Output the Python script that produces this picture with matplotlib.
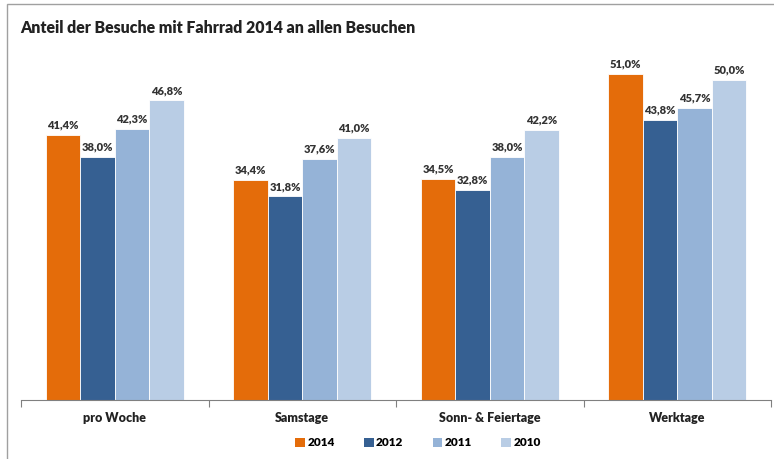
import numpy as np
import matplotlib.pyplot as plt
from matplotlib.patches import Rectangle, Patch

categories = ["pro Woche", "Samstage", "Sonn- & Feiertage", "Werktage"]
years = ["2014", "2012", "2011", "2010"]
v2014 = [41.4, 34.4, 34.5, 51.0]
v2012 = [38.0, 31.8, 32.8, 43.8]
v2011 = [42.3, 37.6, 38.0, 45.7]
v2010 = [46.8, 41.0, 42.2, 50.0]
series = [v2014, v2012, v2011, v2010]
colors = ["#E46C0A", "#366092", "#95B3D7", "#B9CDE5"]

plt.rcParams['font.family'] = ['Lato', 'DejaVu Sans']

fig = plt.figure(figsize=(7.74, 4.59), dpi=100)
W, H = 774, 459
PX = 6.40  # pixels per percent
# axes: x from 21 to 771 px, baseline at y=400
ax = fig.add_axes([21 / W, (H - 400) / H, 750 / W, 60 * PX / H])

x = np.arange(len(categories))
bw = 0.184
for i, (vals, c) in enumerate(zip(series, colors)):
    pos = x + (i - 1.5) * bw
    ax.bar(pos, vals, width=bw, color=c, edgecolor="white", linewidth=0.6)
    for p, v in zip(pos, vals):
        ax.text(p, v + 0.7, f"{v:.1f}%".replace(".", ","), ha="center", va="bottom",
                fontsize=8, fontweight="heavy", color="#333333")

ax.set_xlim(-0.5, len(categories) - 0.5)
ax.set_ylim(0, 60)
ax.set_yticks([])
for s in ["top", "right", "left"]:
    ax.spines[s].set_visible(False)
ax.spines["bottom"].set_color("#808080")
ax.set_xticks(np.arange(len(categories) + 1) - 0.5)
ax.set_xticklabels([])
ax.tick_params(axis="x", length=5, color="#808080", direction="out")
for xi, lab in zip(x, categories):
    ax.text(xi, -18 / PX, lab, ha="center", va="center", fontsize=9,
            fontweight="heavy", color="#222222")

fig.text(20 / W, 1 - 28 / H, "Anteil der Besuche mit Fahrrad 2014 an allen Besuchen",
         fontsize=11.4, fontweight="heavy", color="#222222", va="center")

# outer chart border (cropped on right and bottom)
fig.patches.append(Rectangle((7 / W, -0.1), 1.2, 1.1 - 4 / H, transform=fig.transFigure,
                             fill=False, edgecolor="#A0A0A0", linewidth=1))

handles = [Patch(facecolor=c, edgecolor="none") for c in colors]
fig.legend(handles, years, loc="center", bbox_to_anchor=(418 / W, 1 - 443 / H), ncol=4,
           frameon=False, handlelength=0.8, handleheight=0.8, columnspacing=2.5,
           handletextpad=0.2, prop={"size": 8.5, "weight": "heavy"})

fig.savefig("out.png", dpi=100)
